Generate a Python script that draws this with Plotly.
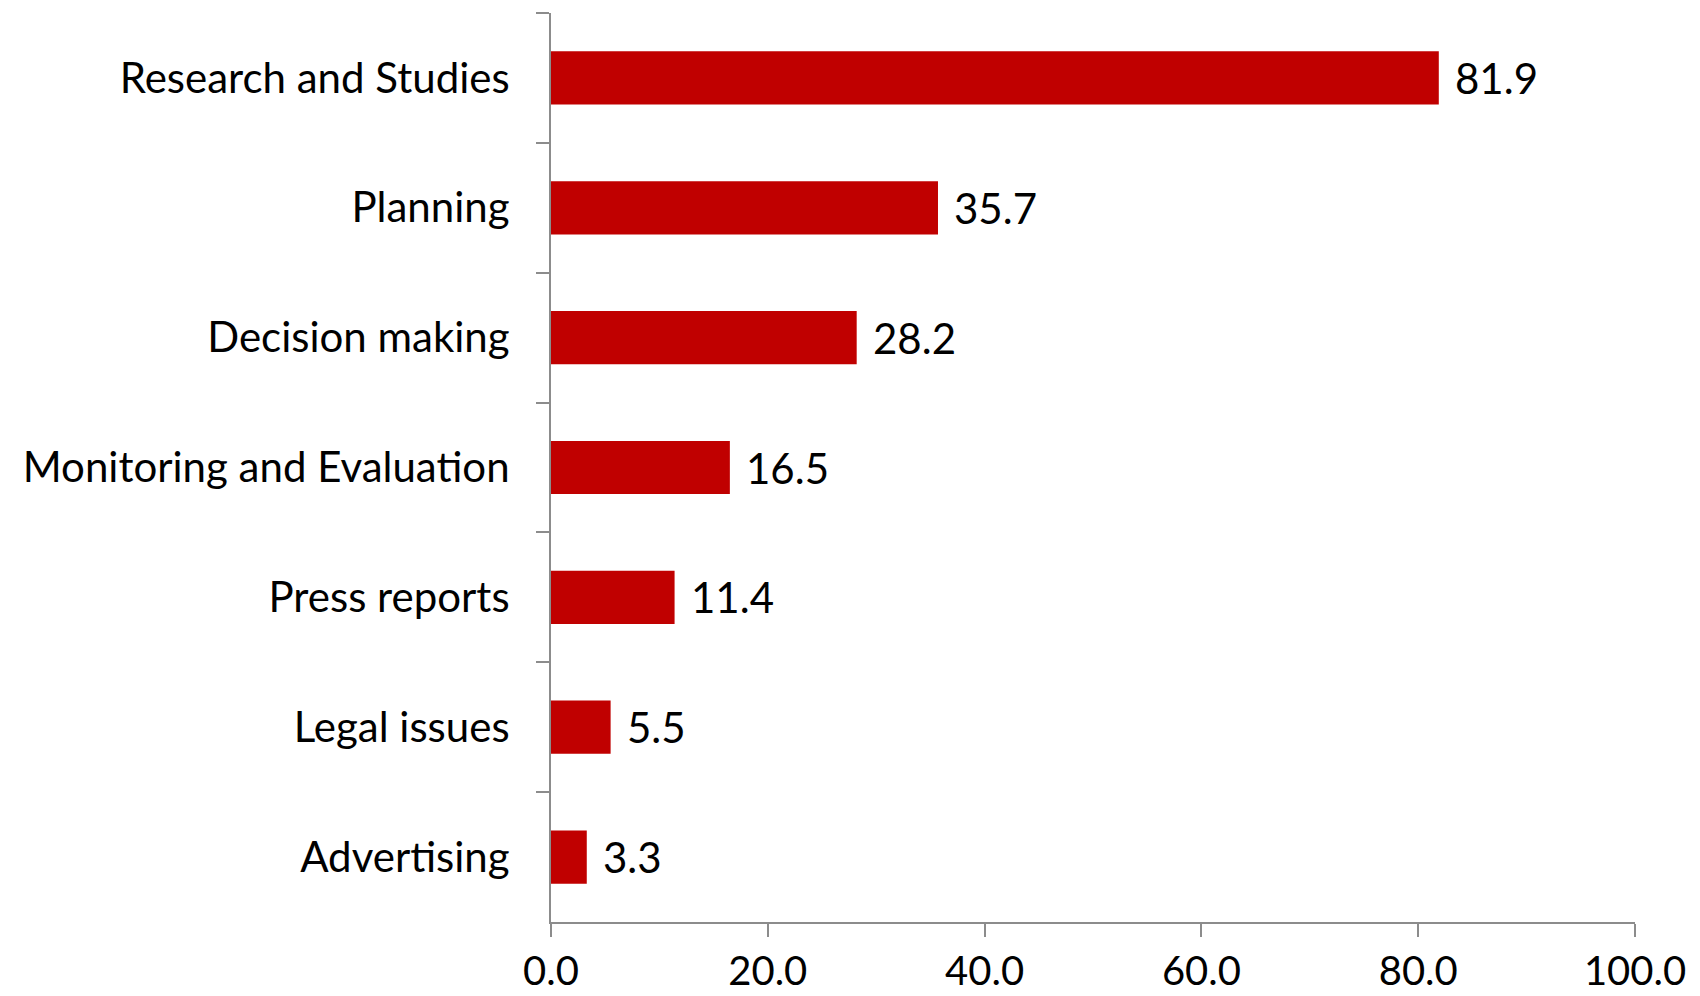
import plotly.graph_objects as go

categories = [
    "Research and Studies",
    "Planning",
    "Decision making",
    "Monitoring and Evaluation",
    "Press reports",
    "Legal issues",
    "Advertising",
]
values = [81.9, 35.7, 28.2, 16.5, 11.4, 5.5, 3.3]
x_ticks = [0, 20, 40, 60, 80, 100]

BAR_COLOR = "#C00000"
AXIS_COLOR = "#8C8C8C"
FONT = "Lato, 'Open Sans', sans-serif"
FSIZE = 42

fig = go.Figure(
    go.Bar(
        x=values,
        y=categories,
        orientation="h",
        marker=dict(color=BAR_COLOR, line=dict(width=0)),
        width=0.41,
        hoverinfo="x+y",
    )
)

# value labels to the right of each bar
for cat, val in zip(categories, values):
    fig.add_annotation(
        x=val, y=cat, text=f"{val:.1f}", showarrow=False,
        xanchor="left", yanchor="middle", xshift=14,
        font=dict(family=FONT, size=FSIZE, color="#000000"),
    )

fig.update_layout(
    width=1700, height=996,
    margin=dict(l=551, r=65, t=13, b=74),
    plot_bgcolor="white", paper_bgcolor="white",
    showlegend=False,
    font=dict(family=FONT, size=FSIZE, color="#000000"),
    xaxis=dict(
        range=[0, 100],
        tickmode="array", tickvals=x_ticks,
        ticktext=[f"{v:.1f}" for v in x_ticks],
        showgrid=False, zeroline=False,
        showline=True, linecolor=AXIS_COLOR, linewidth=2,
        ticks="outside", ticklen=13, tickwidth=2, tickcolor=AXIS_COLOR,
        ticklabelstandoff=0,
        automargin=False,
        tickfont=dict(family=FONT, size=40, color="#000000"),
        fixedrange=True,
    ),
    yaxis=dict(
        categoryorder="array", categoryarray=categories,
        autorange="reversed",
        showgrid=False, zeroline=False,
        showline=True, linecolor=AXIS_COLOR, linewidth=2,
        ticks="outside", ticklen=13, tickwidth=2, tickcolor=AXIS_COLOR,
        tickson="boundaries",
        ticklabelstandoff=31,
        automargin=False,
        tickfont=dict(family=FONT, size=FSIZE, color="#000000"),
        fixedrange=True,
    ),
)

fig.write_html("out.html")
